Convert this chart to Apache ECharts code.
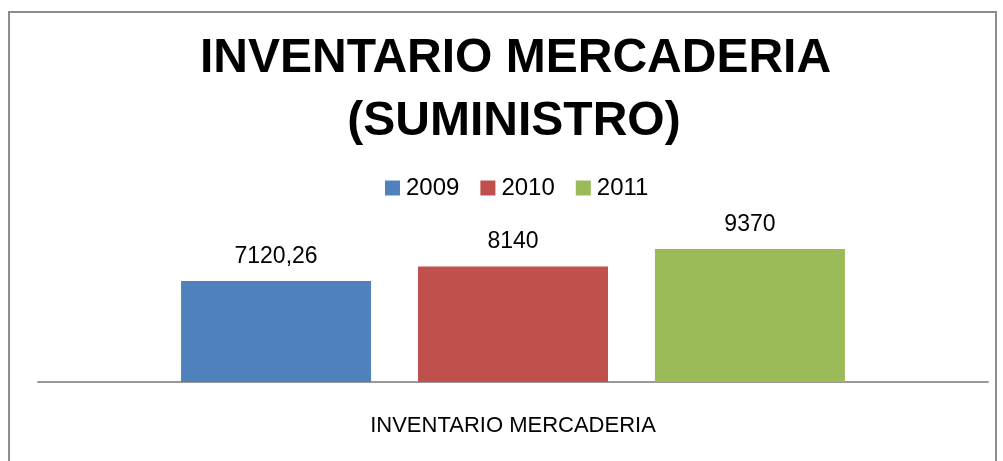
<!DOCTYPE html>
<html>
<head>
<meta charset="utf-8">
<script src="https://cdn.jsdelivr.net/npm/echarts@6/dist/echarts.min.js"></script>
<style>html,body{margin:0;padding:0;background:#fff;}#c{width:1003px;height:461px;}</style>
</head>
<body>
<div id="c"></div>
<script>
const titleLines = ['INVENTARIO MERCADERIA', '(SUMINISTRO)'];
const categories = ['INVENTARIO MERCADERIA'];
const seriesNames = ['2009', '2010', '2011'];
const values2009 = [7120.26];
const values2010 = [8140];
const values2011 = [9370];
const labels2009 = ['7120,26'];
const labels2010 = ['8140'];
const labels2011 = ['9370'];
const colors = ['#4F81BD', '#C0504D', '#9BBB59'];

const seriesData = [values2009, values2010, values2011];
const seriesLabels = [labels2009, labels2010, labels2011];

const chart = echarts.init(document.getElementById('c'), null, {renderer: 'canvas'});
chart.setOption({
  animation: false,
  backgroundColor: '#fff',
  graphic: [{
    type: 'rect', shape: {x: 9, y: 12, width: 987, height: 460},
    style: {fill: 'none', stroke: '#8c8c8c', lineWidth: 2}, z: -1
  }, {
    type: 'text', x: 515.5, y: 59,
    style: {text: titleLines[0], fontFamily: 'Liberation Sans', fontWeight: 'bold', fontSize: 48,
      fill: '#000', textAlign: 'center', textVerticalAlign: 'middle'}
  }, {
    type: 'text', x: 514, y: 122,
    style: {text: titleLines[1], fontFamily: 'Liberation Sans', fontWeight: 'bold', fontSize: 48,
      fill: '#000', textAlign: 'center', textVerticalAlign: 'middle'}
  }],
  legend: {
    data: seriesNames,
    top: 176, left: 385,
    padding: 0,
    itemWidth: 15, itemHeight: 15, itemGap: 21,
    icon: 'rect',
    textStyle: {fontFamily: 'Liberation Sans', fontSize: 24, color: '#000', padding: [0, 0, 0, 1]}
  },
  grid: {left: 38, right: 15, top: 240, bottom: 79, containLabel: false},
  xAxis: {
    type: 'category', data: categories,
    axisLine: {lineStyle: {color: '#999', width: 2}},
    axisTick: {show: false},
    axisLabel: {fontFamily: 'Liberation Sans', fontSize: 22, color: '#000', margin: 33}
  },
  yAxis: {type: 'value', min: 0, max: 10000, show: false, splitLine: {show: false}},
  series: seriesNames.map((n, i) => ({
    name: n, type: 'bar', data: seriesData[i],
    barWidth: 190, barGap: '24.7%',
    itemStyle: {color: colors[i]},
    label: {
      show: true, position: 'top', distance: 13,
      fontFamily: 'Liberation Sans', fontSize: 23, color: '#000',
      formatter: p => seriesLabels[i][p.dataIndex]
    }
  }))
});
</script>
</body>
</html>
